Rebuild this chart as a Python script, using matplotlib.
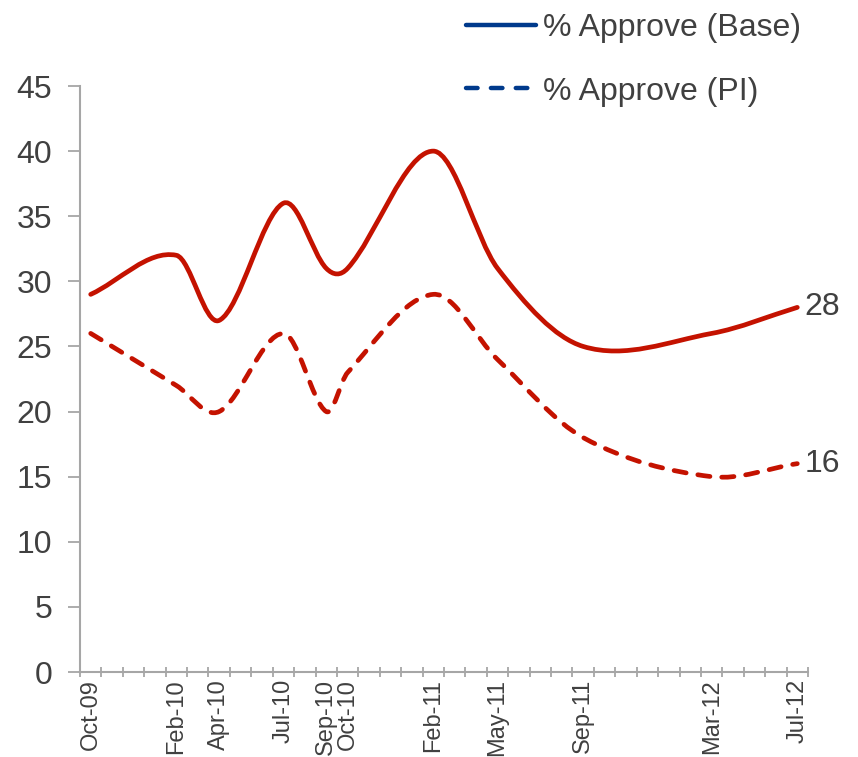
import matplotlib
matplotlib.use("Agg")
import matplotlib.pyplot as plt
from matplotlib.path import Path
from matplotlib.patches import PathPatch
from matplotlib.lines import Line2D
import numpy as np

plt.rcParams['font.family'] = ['Liberation Sans', 'DejaVu Sans']

# Data
labels = ["Oct-09", "Feb-10", "Apr-10", "Jul-10", "Sep-10", "Oct-10",
          "Feb-11", "May-11", "Sep-11", "Mar-12", "Jul-12"]
month_index = [0, 4, 6, 9, 11, 12, 16, 19, 23, 29, 33]   # months since Oct-09
base = [29, 32, 27, 36, 31, 31, 40, 31, 25, 26, 28]
pi = [26, 22, 20, 26, 20, 23, 29, 24, 18, 15, 16]
n_months = 34
series_names = ["% Approve (Base)", "% Approve (PI)"]

RED = "#C41200"
BLUE = "#003A8C"
TXT = "#404040"
AX = "#A6A6A6"

fig = plt.figure(figsize=(8.58, 7.57), dpi=100)
ax = fig.add_axes([80/858, 85/757, 728/858, 586/757])

xs = np.array(month_index, dtype=float) + 0.5


def smooth_path(x, y):
    """Smoothed line as cubic Bezier segments (Hermite in x)."""
    x = np.asarray(x, dtype=float)
    y = np.asarray(y, dtype=float)
    n = len(x)
    m = np.zeros(n)
    for i in range(n):
        if i == 0:
            m[i] = (y[1] - y[0]) / (x[1] - x[0])
        elif i == n - 1:
            m[i] = (y[-1] - y[-2]) / (x[-1] - x[-2])
        else:
            m[i] = (y[i + 1] - y[i - 1]) / (x[i + 1] - x[i - 1])
    verts = [(x[0], y[0])]
    codes = [Path.MOVETO]
    for i in range(n - 1):
        h = x[i + 1] - x[i]
        verts += [(x[i] + h / 3, y[i] + m[i] * h / 3),
                  (x[i + 1] - h / 3, y[i + 1] - m[i + 1] * h / 3),
                  (x[i + 1], y[i + 1])]
        codes += [Path.CURVE4] * 3
    return Path(verts, codes)


lw = 3.4
ax.add_patch(PathPatch(smooth_path(xs, base), fill=False, edgecolor=RED,
                       linewidth=lw, capstyle='round', joinstyle='round'))
ax.add_patch(PathPatch(smooth_path(xs, pi), fill=False, edgecolor=RED,
                       linewidth=lw, linestyle=(0, (2.6, 2.5)),
                       capstyle='round', joinstyle='round'))

ax.set_xlim(0, n_months)
ax.set_ylim(0, 45)
ax.set_yticks(np.arange(0, 46, 5))
ax.set_xticks(xs)
ax.set_xticklabels(labels, rotation=90, fontsize=17, color=TXT)
ax.set_xticks(np.arange(0, n_months + 1), minor=True)
ax.tick_params(axis='x', which='major', length=0, pad=5)
ax.tick_params(axis='x', which='minor', length=7, width=1.3, color=AX,
               direction='inout')
ax.tick_params(axis='y', which='major', length=9, width=1.3, color=AX,
               labelsize=23, labelcolor=TXT, pad=11)

for s in ['top', 'right']:
    ax.spines[s].set_visible(False)
for s in ['left', 'bottom']:
    ax.spines[s].set_color(AX)
    ax.spines[s].set_linewidth(1.5)

# End labels
for vals in (base, pi):
    ax.annotate(str(vals[-1]), (xs[-1], vals[-1]), xytext=(5, 0),
                textcoords='offset points', va='center', ha='left',
                fontsize=23, color=TXT, annotation_clip=False)

handles = [Line2D([], [], color=BLUE, lw=3.2, solid_capstyle='round'),
           Line2D([], [], color=BLUE, lw=3.2, linestyle=(0, (2.6, 3.0)),
                  dash_capstyle='round')]
leg = fig.legend(handles, series_names, loc='upper left',
                 bbox_to_anchor=(466/858, 1 - 13/757), frameon=False,
                 fontsize=23, handlelength=2.2, handletextpad=0.22,
                 labelspacing=1.05, borderpad=0, borderaxespad=0)
for t in leg.get_texts():
    t.set_color(TXT)

fig.savefig("out.png", dpi=100)
